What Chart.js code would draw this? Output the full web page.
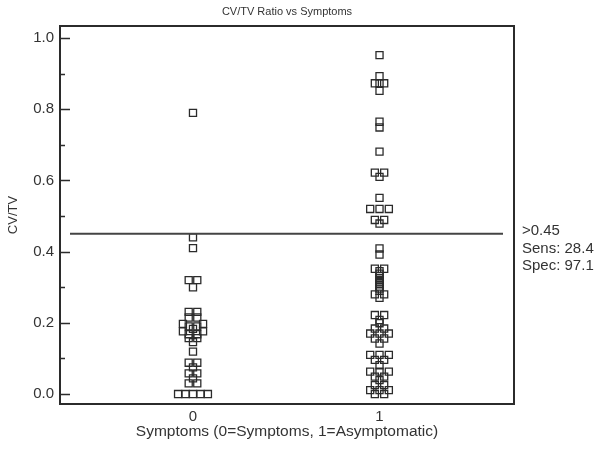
<!DOCTYPE html>
<html>
<head>
<meta charset="utf-8">
<script src="https://cdn.jsdelivr.net/npm/chart.js@4/dist/chart.umd.min.js"></script>
<style>
  html, body { margin: 0; padding: 0; background: #fff; }
  .chart-box { width: 600px; height: 457px; position: relative; }
</style>
</head>
<body>
<div class="chart-box">
  <canvas id="dot_plot"></canvas>
</div>
<script>
// group categories (x axis)
const groups = [0, 1];
const groupLabels = ["0", "1"];

// CV/TV values, group 0 (symptoms)
const cvtv0 = [0.79, 0.44, 0.41, 0.32, 0.32, 0.30,
  0.231, 0.231, 0.215, 0.215,
  0.197, 0.197, 0.19, 0.19, 0.183, 0.176, 0.176, 0.168, 0.168,
  0.157, 0.157, 0.146, 0.119,
  0.088, 0.088, 0.075, 0.058, 0.058, 0.044, 0.030, 0.030,
  0, 0, 0, 0, 0];
// side-by-side jitter of the dots, in x-axis units
const jitter0 = [0, 0, 0, -0.023, 0.023, 0,
  -0.023, 0.023, -0.023, 0.023,
  -0.054, 0.054, -0.023, 0.023, 0, -0.054, 0.054, -0.023, 0.023,
  -0.023, 0.023, 0, 0,
  -0.023, 0.023, 0, -0.023, 0.023, 0, -0.023, 0.023,
  -0.08, -0.04, 0, 0.04, 0.08];

// CV/TV values, group 1 (asymptomatic)
const cvtv1 = [0.952, 0.893, 0.873, 0.873, 0.873, 0.852, 0.765, 0.749, 0.681,
  0.622, 0.622, 0.610, 0.551, 0.52, 0.52, 0.52, 0.489, 0.489, 0.479,
  0.409, 0.392, 0.352, 0.352, 0.345,
  0.338, 0.332, 0.326, 0.320, 0.314, 0.308, 0.302, 0.296, 0.290,
  0.28, 0.28, 0.27,
  0.222, 0.222, 0.208, 0.199, 0.184, 0.184, 0.170, 0.170, 0.170,
  0.156, 0.156, 0.142,
  0.110, 0.110, 0.110, 0.096, 0.096, 0.081,
  0.063, 0.063, 0.063, 0.049, 0.049, 0.039, 0.025, 0.025,
  0.011, 0.011, 0.011, 0, 0];
const jitter1 = [0, 0, -0.025, 0, 0.025, 0, 0, 0, 0,
  -0.025, 0.025, 0, 0, -0.05, 0, 0.05, -0.025, 0.025, 0,
  0, 0, -0.025, 0.025, 0,
  0, 0, 0, 0, 0, 0, 0, 0, 0,
  -0.025, 0.025, 0,
  -0.025, 0.025, 0, 0, -0.025, 0.025, -0.05, 0, 0.05,
  -0.025, 0.025, 0,
  -0.05, 0, 0.05, -0.025, 0.025, 0,
  -0.05, 0, 0.05, -0.025, 0.025, 0, -0.025, 0.025,
  -0.05, 0, 0.05, -0.025, 0.025];

// y axis ticks
const yTicks = [0, 0.2, 0.4, 0.6, 0.8, 1.0];
const yMinorTicks = [0.1, 0.3, 0.5, 0.7, 0.9];

// ROC cutoff and its stats
const cutoff = 0.45;
const cutoffText = [">0.45", "Sens: 28.4", "Spec: 97.1"];
const chartTitle = "CV/TV Ratio vs Symptoms";

const FONT = "'Liberation Sans', Arial, sans-serif";
const INK = "#2b2b2b";

function toPoints(g, ys, jit) {
  return ys.map((v, i) => ({ x: g + jit[i], y: v }));
}

const framePlugin = {
  id: "frame",
  afterDatasetsDraw(chart) {
    const { ctx, chartArea: a, scales } = chart;
    const y = scales.y;
    ctx.save();
    // box
    ctx.strokeStyle = INK;
    ctx.lineWidth = 2;
    ctx.strokeRect(a.left, a.top, a.right - a.left, a.bottom - a.top);
    // inward ticks
    ctx.lineWidth = 1.5;
    ctx.beginPath();
    yTicks.forEach(v => {
      const py = Math.round(y.getPixelForValue(v)) + 0.5;
      ctx.moveTo(a.left, py);
      ctx.lineTo(a.left + 10, py);
    });
    yMinorTicks.forEach(v => {
      const py = Math.round(y.getPixelForValue(v)) + 0.5;
      ctx.moveTo(a.left, py);
      ctx.lineTo(a.left + 5, py);
    });
    ctx.stroke();
    // cutoff line
    const cy = y.getPixelForValue(cutoff);
    ctx.strokeStyle = "#444";
    ctx.lineWidth = 2;
    ctx.beginPath();
    ctx.moveTo(a.left + 10, cy);
    ctx.lineTo(a.right - 11, cy);
    ctx.stroke();
    // cutoff text
    ctx.fillStyle = "#333";
    ctx.font = "15px " + FONT;
    ctx.textAlign = "left";
    ctx.textBaseline = "middle";
    cutoffText.forEach((t, i) => {
      ctx.fillText(t, a.right + 8, cy - 3 + i * 17.5);
    });
    // title, centred over the plot box
    ctx.font = "11px " + FONT;
    ctx.textAlign = "center";
    ctx.fillText(chartTitle, (a.left + a.right) / 2, 12);
    ctx.restore();
  }
};

Chart.defaults.color = "#333";
Chart.defaults.font.family = FONT;

new Chart(document.getElementById("dot_plot"), {
  type: "scatter",
  data: {
    datasets: [
      { data: toPoints(groups[0], cvtv0, jitter0) },
      { data: toPoints(groups[1], cvtv1, jitter1) }
    ]
  },
  options: {
    responsive: true,
    maintainAspectRatio: false,
    animation: false,
    events: [],
    layout: { padding: { left: 0, right: 86, top: 26, bottom: 0 } },
    elements: {
      point: {
        pointStyle: "rect",
        radius: 5,
        borderWidth: 1.3,
        borderColor: INK,
        backgroundColor: "rgba(0,0,0,0)"
      }
    },
    plugins: {
      legend: { display: false },
      tooltip: { enabled: false },
      title: { display: false }
    },
    scales: {
      x: {
        type: "linear",
        min: -0.713,
        max: 1.721,
        grid: { display: false, drawTicks: false },
        border: { display: false },
        afterBuildTicks: s => { s.ticks = groups.map(v => ({ value: v })); },
        afterFit: s => { s.height = 53; },
        ticks: {
          padding: 4,
          font: { size: 15 },
          callback: (v, i) => groupLabels[i]
        },
        title: {
          display: true,
          text: "Symptoms (0=Symptoms, 1=Asymptomatic)",
          font: { size: 15.5 },
          padding: { top: 0, bottom: 15.5 }
        }
      },
      y: {
        min: -0.028,
        max: 1.034,
        grid: { display: false, drawTicks: false },
        border: { display: false },
        afterBuildTicks: s => { s.ticks = yTicks.map(v => ({ value: v })); },
        afterFit: s => { s.width = 60; },
        ticks: {
          padding: 6,
          font: { size: 15 },
          callback: v => v.toFixed(1)
        },
        title: {
          display: true,
          text: "CV/TV",
          font: { size: 13 },
          padding: { top: 6, bottom: 0 }
        }
      }
    }
  },
  plugins: [framePlugin]
});
</script>
</body>
</html>
